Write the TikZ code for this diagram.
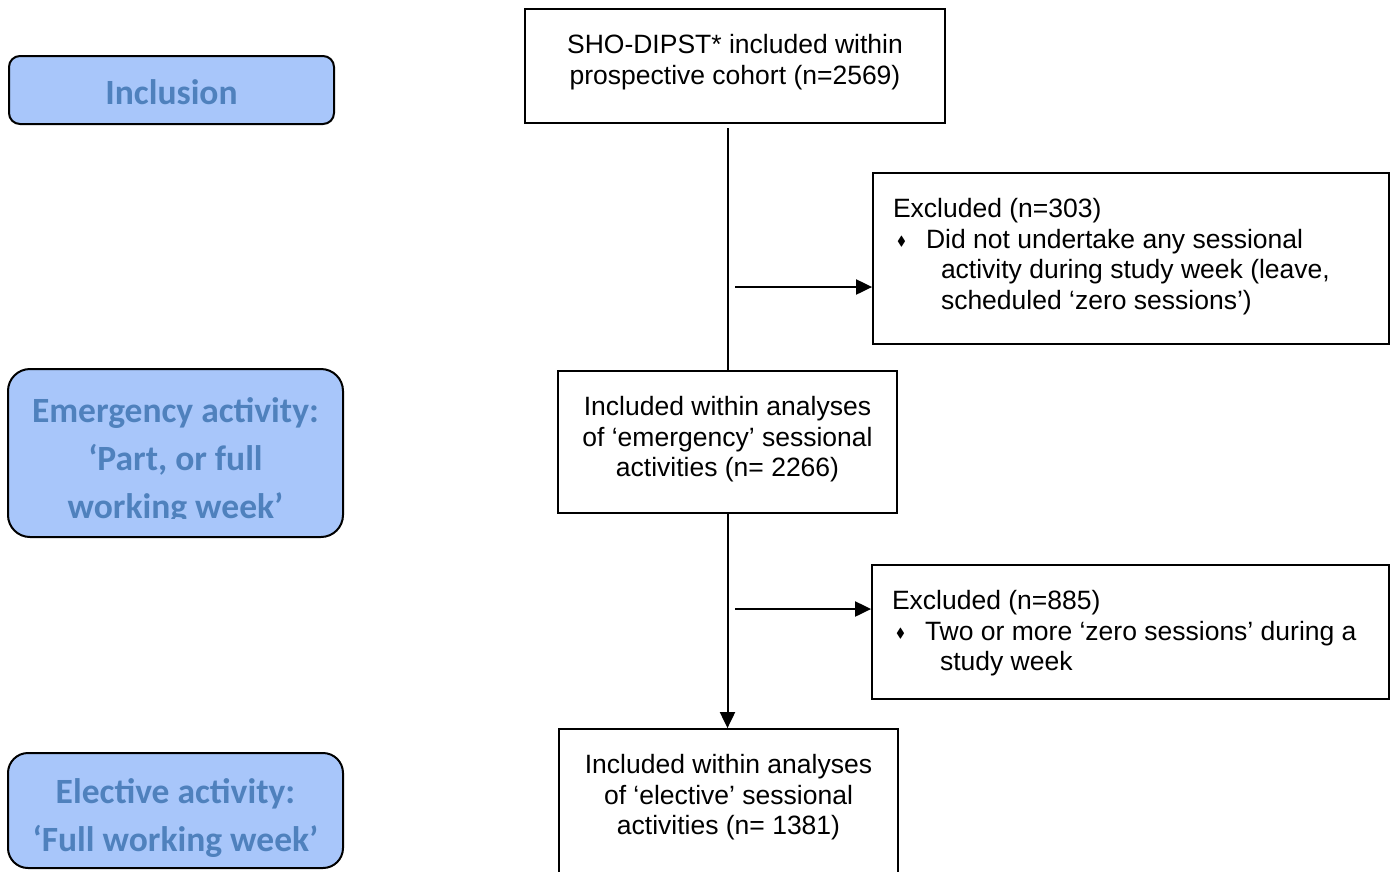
\documentclass[tikz,border=0pt]{standalone}
\usepackage{fontspec}
\setmainfont{Liberation Sans}
\newfontfamily\phasefont{Carlito}
\usepackage{amssymb}
\usetikzlibrary{arrows.meta,positioning}
\definecolor{phasefill}{HTML}{A8C6FA}
\definecolor{phaseink}{HTML}{4F81BD}
\newcommand{\flowfont}{\fontsize{26.5}{30.7}\selectfont}
% centred text, hung from the top of a box of fixed size
\newcommand{\flowtext}[3]{\parbox[c][#2][t]{#1}{\flowfont\vspace*{23pt}\centering\strut #3\par}}
% left aligned heading plus one diamond item
\newcommand{\excltext}[4]{\parbox[c][#2][t]{#1}{\flowfont\vspace*{23pt}\leftskip=20pt
  \noindent\strut #3\par
  \hangindent=48pt\hangafter=1\noindent\makebox[33pt][l]{\hspace{4pt}\raisebox{0.2ex}{\scalebox{0.5}{$\blacklozenge$}}}#4\par}}

\begin{document}
\begin{tikzpicture}[
    x=1pt, y=-1pt,
    flowbox/.style={draw, line width=1.8pt, inner sep=0pt, fill=white},
    phase/.style={draw, line width=2pt, fill=phasefill},
    phasetext/.style={font=\phasefont\bfseries\fontsize{35.5}{48}\selectfont, text=phaseink, align=center, inner sep=0pt},
    link/.style={line width=2pt},
    arrow/.style={link, -{Triangle[length=16pt,width=15pt]}},
]
\useasboundingbox (0,0) rectangle (1396,871);
\clip (0,0) rectangle (1396,871);

% phase labels on the left
\node[phase, minimum width=325pt, minimum height=68pt, rounded corners=11pt] (inclusion) at (171.5,90) {};
\node[phasetext] at ([yshift=-2pt]inclusion.center) {Inclusion};

\node[phase, minimum width=335pt, minimum height=168pt, rounded corners=22pt] (emergency) at (175.5,453) {};
\begin{scope}
  \clip (emergency.north west) rectangle ([yshift=20pt]emergency.south east);
  \node[phasetext] at ([yshift=-8pt]emergency.center) {Emergency activity:\\‘Part, or full\\working week’};
\end{scope}

\node[phase, minimum width=335pt, minimum height=115pt, rounded corners=20pt] (elective) at (175.5,810.5) {};
\begin{scope}
  \clip (elective.north west) rectangle ([yshift=13pt]elective.south east);
  \node[phasetext] at ([yshift=-7.5pt]elective.center) {Elective activity:\\‘Full working week’};
\end{scope}

% flow boxes
\node[flowbox] (cohort) at (735,66) {\flowtext{420pt}{114pt}{SHO-DIPST* included within\\prospective cohort (n=2569)}};
\node[flowbox] (excl1) at (1131,258.5) {\excltext{516pt}{171pt}{Excluded (n=303)}{Did not undertake any sessional\\activity during study week (leave,\\scheduled ‘zero sessions’)}};
\node[flowbox] (emerg) at (727.5,442) {\flowtext{339pt}{142pt}{Included within analyses\\of ‘emergency’ sessional\\activities (n= 2266)}};
\node[flowbox] (excl2) at (1130.5,632) {\excltext{517pt}{134pt}{Excluded (n=885)}{Two or more ‘zero sessions’ during a\\study week}};
\node[flowbox] (elect) at (728.5,814.5) {\flowtext{339pt}{171pt}{Included within analyses\\of ‘elective’ sessional\\activities (n= 1381)}};

% connectors
\coordinate (stem) at (728,128);
\coordinate (tap1) at (735,287);
\coordinate (tap2) at (735,609);
\draw[link] (stem) -- (stem |- emerg.north);
\draw[arrow] (tap1) -- (tap1 -| excl1.west);
\draw[arrow] (emerg.south) -- (emerg.south |- elect.north);
\draw[arrow] (tap2) -- (tap2 -| excl2.west);
\end{tikzpicture}
\end{document}
